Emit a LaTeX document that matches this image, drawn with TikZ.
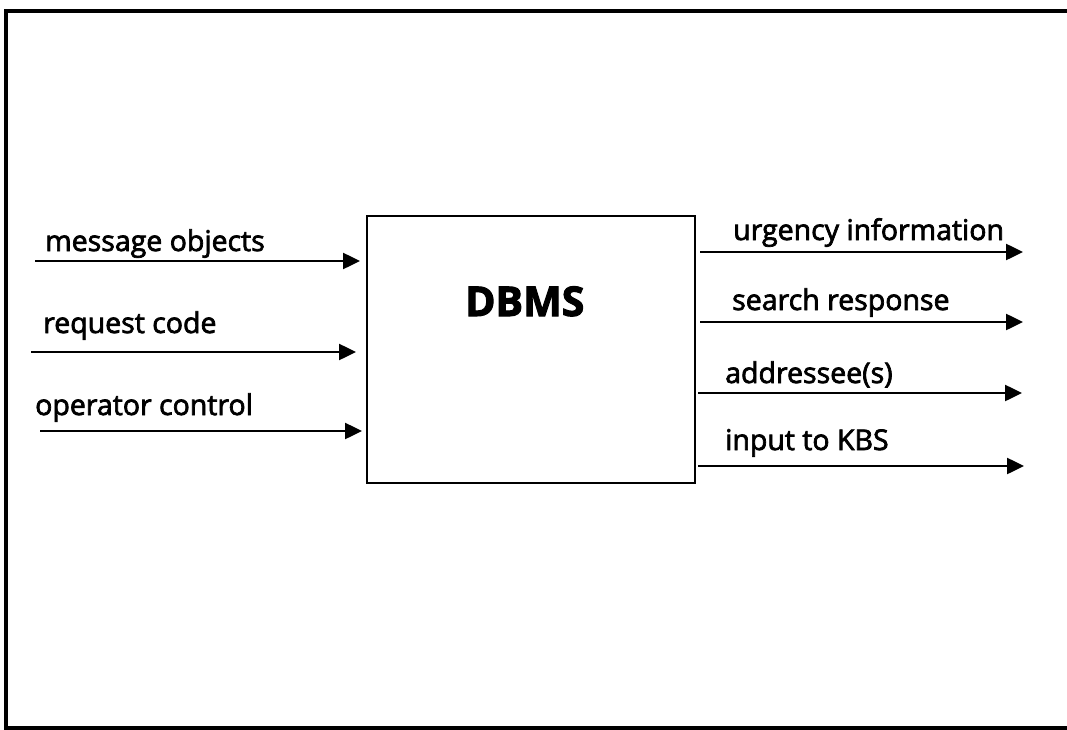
\documentclass[tikz,border=0pt]{standalone}
\usepackage{fontspec}
\setmainfont{Open Sans}[FakeBold=2.5]
\usetikzlibrary{arrows.meta}
\tikzset{
  frameline/.style={line width=4pt},
  procbox/.style={draw, line width=2.5pt, minimum width=328pt, minimum height=267pt, inner sep=0pt},
  flowlabel/.style={anchor=base west, inner sep=0pt, font=\fontsize{28.5}{32}\selectfont},
  flow/.style={line width=2.5pt, -{Triangle[length=17pt,width=16pt]}},
}
\begin{document}
\begin{tikzpicture}[x=1pt,y=-1pt]
\useasboundingbox (0,0) rectangle (1067,730);
% outer frame, open at the right edge
\draw[frameline] (1075,11) -- (6,11) -- (6,728) -- (1075,728);
% central process
\node[procbox] (dbms) at (531,349.5) {};
\node[anchor=base west, inner sep=0pt, font=\fontsize{41}{46}\selectfont\bfseries] (dbmslabel) at (465,316) {DBMS};
% inputs
\coordinate (in1) at (35,261);
\coordinate (in2) at (31,352);
\coordinate (in3) at (40,431);
\coordinate (in1e) at (360,261);
\coordinate (in2e) at (356,352);
\coordinate (in3e) at (362,431);
\draw[flow] (in1) -- (in1e);
\draw[flow] (in2) -- (in2e);
\draw[flow] (in3) -- (in3e);
\node[flowlabel] (l1) at (45,251) {message objects};
\node[flowlabel] (l2) at (43,333) {request code};
\node[flowlabel] (l3) at (35,415) {operator control};
% outputs
\coordinate (out1s) at (700,252);
\coordinate (out2s) at (700,322);
\coordinate (out3s) at (698,393);
\coordinate (out4s) at (698,466);
\coordinate (out1) at (1023,252);
\coordinate (out2) at (1023,322);
\coordinate (out3) at (1022,393);
\coordinate (out4) at (1024,466);
\draw[flow] (out1s) -- (out1);
\draw[flow] (out2s) -- (out2);
\draw[flow] (out3s) -- (out3);
\draw[flow] (out4s) -- (out4);
\node[flowlabel] (r1) at (733,240) {urgency information};
\node[flowlabel] (r2) at (732,310) {search response};
\node[flowlabel] (r3) at (725,383) {addressee(s)};
\node[flowlabel] (r4) at (725,450) {input to KBS};
\end{tikzpicture}
\end{document}
